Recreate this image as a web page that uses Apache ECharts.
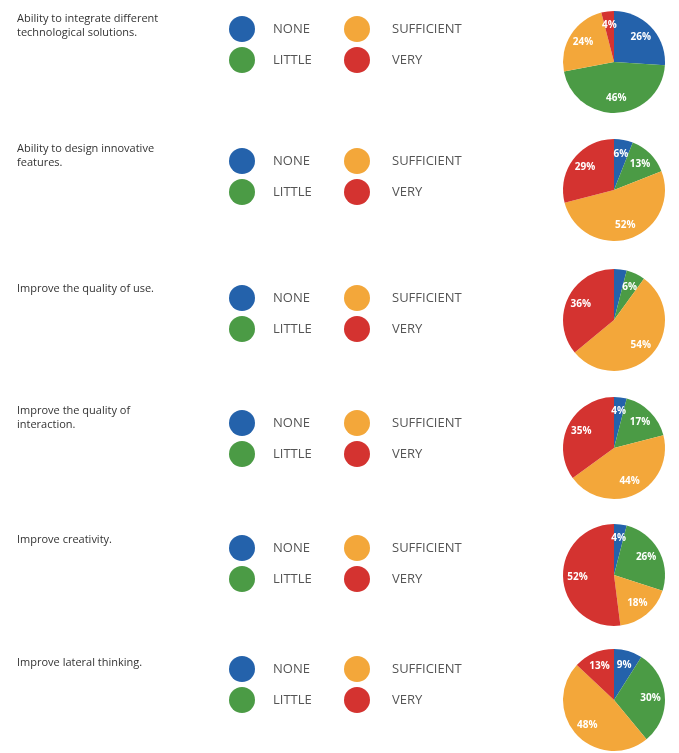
<!DOCTYPE html>
<html>
<head>
<meta charset="utf-8">
<script src="https://cdn.jsdelivr.net/npm/echarts@6/dist/echarts.min.js"></script>
<style>
  html, body { margin: 0; padding: 0; background: #ffffff; }
  #chart { width: 679px; height: 753px; }
</style>
</head>
<body>
<div id="chart"></div>
<script>
// Response levels, in the order the slices run clockwise from 12 o'clock
const levels = ['NONE', 'LITTLE', 'SUFFICIENT', 'VERY'];
const levelColors = ['#2462ab', '#4b9b45', '#f3a73a', '#d43330'];

// One question per row
const questions = [
  'Ability to integrate different\ntechnological solutions.',
  'Ability to design innovative\nfeatures.',
  'Improve the quality of use.',
  'Improve the quality of\ninteraction.',
  'Improve creativity.',
  'Improve lateral thinking.'
];

// Share of answers (%) per question: NONE, LITTLE, SUFFICIENT, VERY
const integrateSolutions = [26, 46, 24, 4];
const designFeatures     = [6, 13, 52, 29];
const qualityOfUse       = [4, 6, 54, 36];
const qualityInteraction = [4, 17, 44, 35];
const creativity         = [4, 26, 18, 52];
const lateralThinking    = [9, 30, 48, 13];

const answers = [integrateSolutions, designFeatures, qualityOfUse,
                 qualityInteraction, creativity, lateralThinking];

// Row geometry
const pieCenterY = [62, 190, 320, 448, 575, 700];
const legendTopY = [11, 143, 280, 405, 530, 651];
const questionTopY = [7, 137, 277, 399, 528, 651];
const pieCenterX = 614;
const pieRadius = 51;

const chart = echarts.init(document.getElementById('chart'), null, { renderer: 'canvas' });

const title = [];
const legend = [];
const series = [];

questions.forEach((q, i) => {
  title.push({
    text: q,
    left: 12,
    top: questionTopY[i],
    textStyle: { fontSize: 11, fontWeight: 'normal', color: '#333333',
                 fontFamily: 'Open Sans, sans-serif', lineHeight: 14 }
  });

  const legendCommon = {
    orient: 'vertical',
    top: legendTopY[i],
    icon: 'circle',
    itemWidth: 26,
    itemHeight: 26,
    itemGap: 5,
    selectedMode: false,
    textStyle: { fontSize: 13, color: '#555', fontFamily: 'Open Sans, sans-serif',
                 padding: [0, 0, 0, 13] }
  };
  legend.push(Object.assign({}, legendCommon, { left: 224, data: ['NONE', 'LITTLE'] }));
  legend.push(Object.assign({}, legendCommon, { left: 339, data: ['SUFFICIENT', 'VERY'],
    textStyle: Object.assign({}, legendCommon.textStyle, { padding: [0, 0, 0, 17] }) }));

  const data = levels.map((name, k) => ({
    name: name,
    value: answers[i][k],
    itemStyle: { color: levelColors[k] }
  }));

  // The coloured pie
  series.push({
    type: 'pie',
    center: [pieCenterX, pieCenterY[i]],
    radius: [0, pieRadius],
    startAngle: 90,
    clockwise: true,
    silent: true,
    label: { show: false },
    labelLine: { show: false },
    data: data
  });

  // Transparent ring on top carrying the percentage labels toward the rim
  series.push({
    type: 'pie',
    center: [pieCenterX, pieCenterY[i]],
    radius: [pieRadius * 0.32, pieRadius],
    startAngle: 90,
    clockwise: true,
    silent: true,
    legendHoverLink: false,
    itemStyle: { color: 'rgba(0,0,0,0)' },
    label: {
      show: true,
      position: 'inside',
      formatter: '{c}%',
      color: '#ffffff',
      fontSize: 10,
      fontWeight: 'bold',
      fontFamily: 'Open Sans, sans-serif'
    },
    labelLine: { show: false },
    data: levels.map((name, k) => ({ name: name, value: answers[i][k],
                                     itemStyle: { color: 'rgba(0,0,0,0)' } }))
  });
});

chart.setOption({
  backgroundColor: '#ffffff',
  animation: false,
  color: levelColors,
  title: title,
  legend: legend,
  series: series
});
</script>
</body>
</html>
